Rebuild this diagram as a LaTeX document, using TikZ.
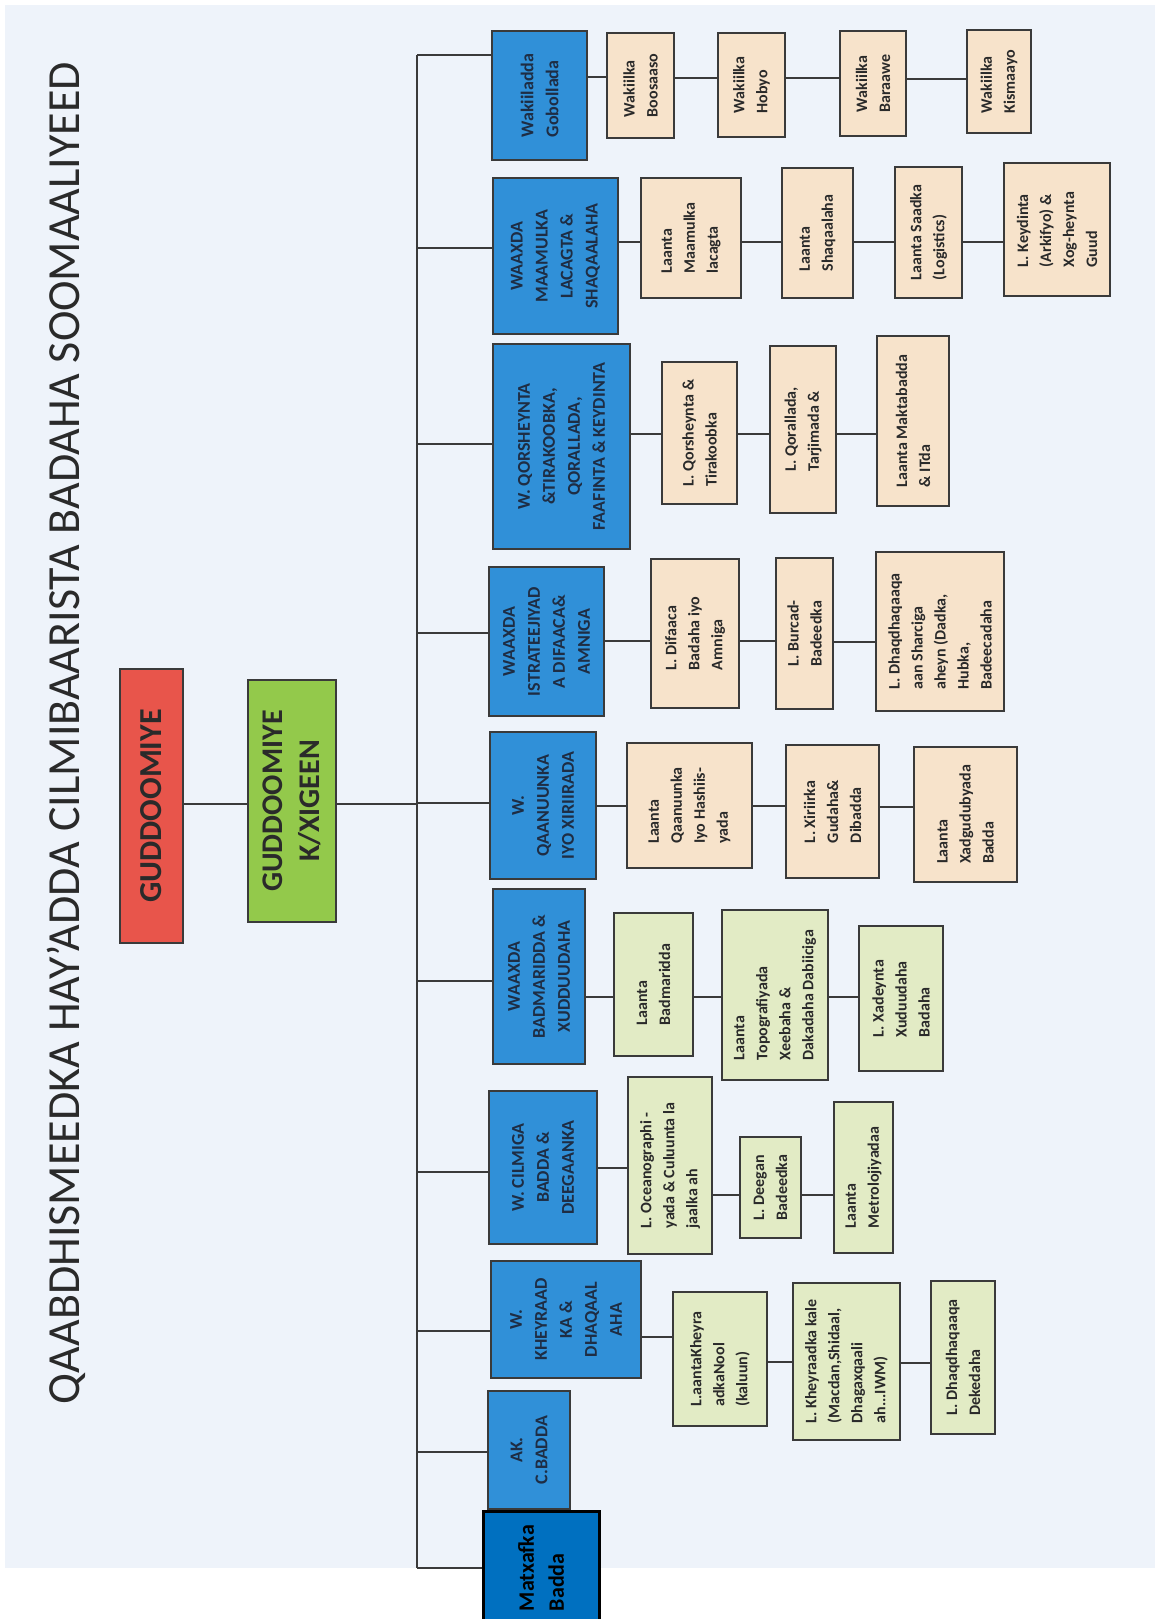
\documentclass[tikz,border=0pt]{standalone}
\usepackage{fontspec}
\setmainfont{Carlito}
\usepackage{tikz}

\definecolor{scanbg}{HTML}{EEF3FA}
\definecolor{linecol}{HTML}{3A3A3A}
\definecolor{deptblue}{HTML}{3090D8}
\definecolor{depttext}{HTML}{1E2D44}
\definecolor{museum}{HTML}{0070C0}
\definecolor{tan}{HTML}{F7E3CB}
\definecolor{sage}{HTML}{E2EBC5}
\definecolor{chairred}{HTML}{E8554B}
\definecolor{vicegreen}{HTML}{93C94B}
\definecolor{darktext}{HTML}{2A2A2A}

\begin{document}
\begin{tikzpicture}[x=0.5pt, y=-0.5pt,
	boxsize/.style 2 args={minimum height=#1*0.5pt, minimum width=#2*0.5pt},
	box/.style={draw=linecol, line width=1pt, rotate=90, inner sep=1pt, align=left, text=darktext, font=\bfseries\fontsize{8}{11.5}\selectfont},
	tanbox/.style={box, fill=tan},
	sagebox/.style={box, fill=sage},
	dept/.style={box, fill=deptblue, text=depttext, align=center, font=\bfseries\fontsize{9}{12.5}\selectfont},
	link/.style={draw=linecol, line width=0.8pt}]
	
	% Scan background
	\fill[white] (0,0) rectangle (1155,1619);
	\fill[scanbg] (5,5) rectangle (1155,1568);
	\useasboundingbox (0,0) rectangle (1155,1619);
	
	% Title
	\node[rotate=90, text=darktext, font=\fontsize{23}{28}\selectfont] (title) at (66,733) {QAABDHISMEEDKA HAY’ADDA CILMIBAARISTA BADAHA SOOMAALIYEED};
	
	% Chairman and deputy
	\node[box, fill=chairred, align=center, font=\bfseries\fontsize{16}{19}\selectfont, boxsize={63}{274}] (chair) at (151.5,806) {GUDDOOMIYE};
	\node[box, fill=vicegreen, align=center, font=\bfseries\fontsize{15}{18.5}\selectfont, boxsize={88}{242}] (vice) at (292,801) {GUDDOOMIYE\\K/XIGEEN};
	
	% Departments
	\node[dept, align=left, boxsize={95}{129}] (wakiil) at (539.5,95.5) {Wakiiladda\\Gobollada};
	\node[dept, boxsize={125}{156}] (maamul) at (555.5,256) {WAAXDA\\MAAMULKA\\LACAGTA \&\\SHAQAALAHA};
	\node[dept, boxsize={137}{205}] (qorshe) at (561.5,446.5) {W. QORSHEYNTA\\\&TIRAKOOBKA,\\QORALLADA,\\FAAFINTA \& KEYDINTA};
	\node[dept, boxsize={115}{149}] (istrat) at (546.5,641.5) {WAAXDA\\ISTRATEEJIYAD\\A DIFAACA\&\\AMNIGA};
	\node[dept, boxsize={106}{147}] (qaanuun) at (543,805.5) {W.\\QAANUUNKA\\IYO XIRIIRADA};
	\node[dept, boxsize={92}{175}] (badmar) at (539,976.5) {WAAXDA\\BADMARIDDA \&\\XUDDUUDAHA};
	\node[dept, boxsize={108}{153}] (cilmi) at (543,1167.5) {W. CILMIGA\\BADDA \&\\DEEGAANKA};
	\node[dept, boxsize={150}{117}] (kheyr) at (566,1319.5) {W.\\KHEYRAAD\\KA \&\\DHAQAAL\\AHA};
	\node[dept, boxsize={82}{118}] (akc) at (529,1450) {AK.\\C.BADDA};
	\node[box, fill=museum, draw=black, line width=1.5pt, text=black, font=\bfseries\fontsize{11}{15}\selectfont, boxsize={116}{114}] (matxaf) at (541,1568) {Matxafka\\Badda};
	
	% Regional offices
	\node[tanbox, boxsize={67}{105}] (boosaaso) at (640.5,85.5) {Wakiilka\\Boosaaso};
	\node[tanbox, boxsize={67}{104}] (hobyo) at (751.5,85) {Wakiilka\\Hobyo};
	\node[tanbox, boxsize={66}{105}] (baraawe) at (873,83.5) {Wakiilka\\Baraawe};
	\node[tanbox, boxsize={64}{103}] (kismaayo) at (999,81.5) {Wakiilka\\Kismaayo};
	
	% Units
	\node[tanbox, boxsize={100}{120}] (lacag) at (691,238) {Laanta\\Maamulka\\lacagta};
	\node[tanbox, boxsize={71}{130}] (shaqaale) at (817.5,233) {Laanta\\Shaqaalaha};
	\node[tanbox, boxsize={67}{131}] (saad) at (928.5,232.5) {Laanta Saadka\\(Logistics)};
	\node[tanbox, boxsize={106}{133}] (keyd) at (1057,229.5) {L. Keydinta\\(Arkifyo) \&\\Xog-heynta\\Guud};
	
	\node[tanbox, boxsize={75}{142}] (tira) at (699.5,433) {L. Qorsheynta \&\\Tirakoobka};
	\node[tanbox, boxsize={66}{167}] (tarjim) at (803,429.5) {L. Qorallada,\\Tarjimada \&};
	\node[tanbox, boxsize={72}{170}] (maktab) at (913,421) {Laanta Maktabadda\\\& ITda};
	
	\node[tanbox, boxsize={88}{149}] (difaac) at (695,633.5) {L. Difaaca\\Badaha iyo\\Amniga};
	\node[tanbox, boxsize={57}{151}] (burcad) at (804.5,633.5) {L. Burcad-\\Badeedka};
	\node[tanbox, boxsize={128}{159}] (sharci) at (940,631.5) {L. Dhaqdhaqaaqa\\aan Sharciga\\aheyn (Dadka,\\Hubka,\\Badeecadaha};
	
	\node[tanbox, boxsize={125}{125}] (hashiis) at (689.5,805.5) {Laanta\\Qaanuunka\\Iyo Hashiis-\\yada};
	\node[tanbox, boxsize={93}{133}] (xiriir) at (832.5,811.5) {L. Xiriirka\\Gudaha\&\\Dibadda};
	\node[tanbox, boxsize={103}{135}] (xadgud) at (965.5,814.5) {Laanta\\Xadgudubyada\\Badda};
	
	\node[sagebox, boxsize={79}{143}] (badmlaan) at (653.5,984.5) {Laanta\\Badmaridda};
	\node[sagebox, boxsize={106}{170}] (topo) at (775,995) {Laanta\\Topografiyada\\Xeebaha \&\\Dakadaha Dabiiciga};
	\node[sagebox, boxsize={84}{145}] (xadeyn) at (901,998.5) {L. Xadeynta\\Xuduudaha\\Badaha};
	
	\node[sagebox, boxsize={84}{177}] (ocean) at (670,1165.5) {L. Oceanographi -\\yada \& Culuunta la\\jaalka ah};
	\node[sagebox, boxsize={61}{101}] (deegan) at (770.5,1187.5) {L. Deegan\\Badeedka};
	\node[sagebox, boxsize={59}{151}] (metro) at (863.5,1177.5) {Laanta\\Metrolojiyadaa};
	
	\node[sagebox, boxsize={94}{134}] (kaluun) at (720,1359) {L.aantaKheyra\\adkaNool\\(kaluun)};
	\node[sagebox, boxsize={107}{157}] (macdan) at (846.5,1361.5) {L. Kheyraadka kale\\(Macdan,Shidaal,\\Dhagaxqaali\\ah...IWM)};
	\node[sagebox, boxsize={64}{153}] (deked) at (963,1357.5) {L. Dhaqdhaqaaqa\\Dekedaha};
	
	% Bus
	\coordinate (bustop) at (417,55);
	\coordinate (busbot) at (417,1568);
	\draw[link] (bustop) -- (busbot);
	\draw[link] (bustop) -- (bustop -| wakiil.north);
	\draw[link] (busbot) -- (busbot -| matxaf.north);
	\foreach \d/\y in {maamul/248, qorshe/444, istrat/633, qaanuun/803, badmar/981, cilmi/1172, kheyr/1331, akc/1452} {
		\path (417,\y) coordinate (p);
		\draw[link] (p) -- (p -| \d.north);
	}
	
	% Chairman to deputy to bus
	\path (0,804) coordinate (p);
	\draw[link] (p -| chair.south) -- (p -| vice.north);
	\draw[link] (p -| vice.south) -- (p -| bustop);
	
	% Rows
	\foreach \a/\b/\y in {wakiil/boosaaso/77, boosaaso/hobyo/78, hobyo/baraawe/78, baraawe/kismaayo/79,
		maamul/lacag/242, lacag/shaqaale/242, shaqaale/saad/242, saad/keyd/242,
		qorshe/tira/434, tira/tarjim/434, tarjim/maktab/434,
		istrat/difaac/641, difaac/burcad/641, burcad/sharci/642,
		qaanuun/hashiis/806, hashiis/xiriir/806, xiriir/xadgud/807,
		badmar/badmlaan/997, badmlaan/topo/997, topo/xadeyn/997,
		cilmi/ocean/1168, ocean/deegan/1195, deegan/metro/1195,
		kheyr/kaluun/1337, kaluun/macdan/1362, macdan/deked/1363} {
		\path (0,\y) coordinate (p);
		\draw[link] (p -| \a.south) -- (p -| \b.north);
	}
\end{tikzpicture}
\end{document}
